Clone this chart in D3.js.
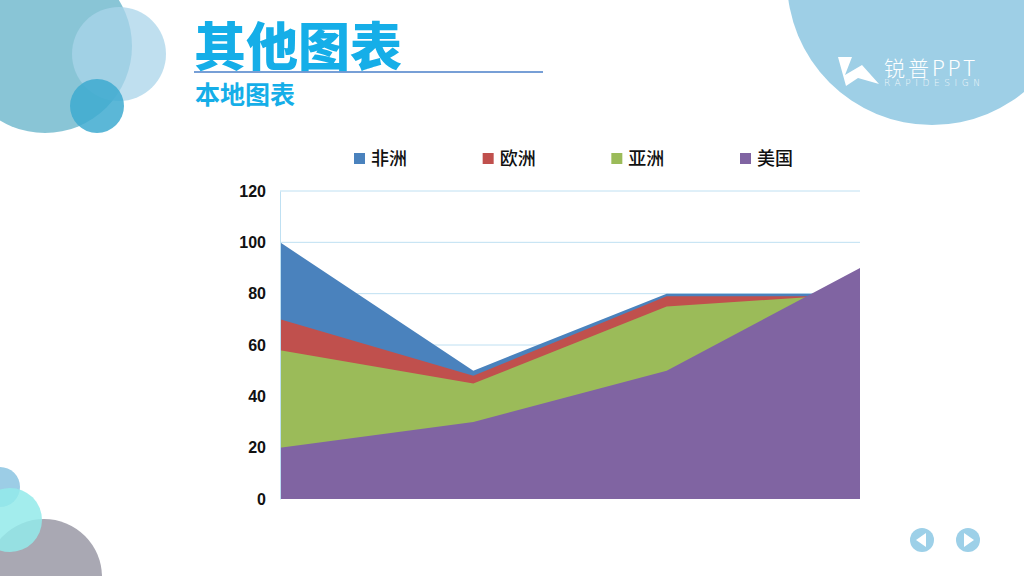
<!DOCTYPE html>
<html>
<head>
<meta charset="utf-8">
<script src="https://cdn.jsdelivr.net/npm/d3@7"></script>
<style>
  html, body { margin: 0; padding: 0; background: #fff; }
  svg { display: block; }
</style>
</head>
<body>
<svg id="slide" width="1024" height="576"></svg>
<script>
// 数据
const categories = ['类别1', '类别2', '类别3', '类别4'];
const seriesNames = ['非洲', '欧洲', '亚洲', '美国'];
const africa = [100, 50, 80, 80];
const europe = [70, 48, 79, 79];
const asia = [58, 45, 75, 80];
const usa = [20, 30, 50, 90];
const yTicks = [0, 20, 40, 60, 80, 100, 120];

const colors = ['#4a82bd', '#c0504d', '#9bbb59', '#8064a2'];
const seriesValues = [africa, europe, asia, usa];

const svg = d3.select('#slide');

// 装饰圆
const deco = svg.append('g').attr('class', 'deco');
[
  { cx: 932, cy: -20, r: 145, fill: '#9ecfe6', op: 1 },
  { cx: 45, cy: 46, r: 87, fill: '#7fc0d3', op: 0.92 },
  { cx: 119, cy: 54, r: 47, fill: '#a9d4ea', op: 0.75 },
  { cx: 97, cy: 106, r: 27, fill: '#3eaad0', op: 0.85 },
  { cx: 44, cy: 577, r: 58, fill: '#a9a8b3', op: 1 },
  { cx: 0, cy: 487, r: 20, fill: '#9ccde6', op: 1 },
  { cx: 10, cy: 520, r: 32, fill: '#93eaea', op: 0.85 }
].forEach(c => {
  deco.append('circle')
    .attr('cx', c.cx).attr('cy', c.cy).attr('r', c.r)
    .attr('fill', c.fill).attr('opacity', c.op);
});

// 标题
svg.append('text')
  .attr('x', 194).attr('y', 66)
  .attr('font-family', '"Noto Sans CJK SC", sans-serif')
  .attr('font-weight', 900)
  .attr('font-size', 52)
  .attr('fill', '#15aee8')
  .text('其他图表');

svg.append('line')
  .attr('x1', 194).attr('x2', 543)
  .attr('y1', 72).attr('y2', 72)
  .attr('stroke', '#4a7fc8').attr('stroke-width', 1.5);

svg.append('text')
  .attr('x', 195).attr('y', 104)
  .attr('font-family', '"Noto Sans CJK SC", sans-serif')
  .attr('font-weight', 700)
  .attr('font-size', 25)
  .attr('fill', '#15aee8')
  .text('本地图表');

// 右上角 logo
const logo = svg.append('g').attr('class', 'logo');
logo.append('path')
  .attr('d', 'M838,57 L852,57 L845,75 L862,65 L879,84 L858,78 L846,86 Z')
  .attr('fill', '#fff');
logo.append('text')
  .attr('x', 884).attr('y', 76)
  .attr('font-family', '"Noto Sans CJK SC", sans-serif')
  .attr('font-size', 21)
  .attr('font-weight', 300)
  .attr('letter-spacing', 3)
  .attr('fill', '#fff')
  .text('锐普PPT');
logo.append('text')
  .attr('x', 884).attr('y', 86)
  .attr('font-family', '"DejaVu Sans", sans-serif')
  .attr('font-size', 9)
  .attr('font-weight', 200)
  .attr('textLength', 96)
  .attr('lengthAdjust', 'spacing')
  .attr('fill', '#fff')
  .attr('opacity', 0.85)
  .text('RAPIDESIGN');

// 图表
const x = d3.scalePoint().domain(categories).range([280, 860]);
const y = d3.scaleLinear().domain([0, 120]).range([499, 191]);

const chart = svg.append('g').attr('class', 'chart');

chart.selectAll('.grid')
  .data(yTicks.filter(t => t > 0))
  .enter().append('line')
  .attr('class', 'grid')
  .attr('x1', x.range()[0]).attr('x2', x.range()[1])
  .attr('y1', d => y(d)).attr('y2', d => y(d))
  .attr('stroke', '#bfe0f2').attr('stroke-width', 1);

const area = d3.area()
  .x((d, i) => x(categories[i]))
  .y0(y(0))
  .y1(d => y(d));

chart.selectAll('.area')
  .data(seriesValues)
  .enter().append('path')
  .attr('class', 'area')
  .attr('d', d => area(d))
  .attr('fill', (d, i) => colors[i]);

const yAxis = d3.axisLeft(y).tickValues(yTicks).tickSize(0).tickPadding(14);
const axisG = chart.append('g')
  .attr('transform', `translate(${x.range()[0]},0)`)
  .call(yAxis);
axisG.select('.domain').attr('stroke', '#bfe0f2');
axisG.selectAll('text')
  .attr('font-family', '"Liberation Sans", Arial, sans-serif')
  .attr('font-weight', 700)
  .attr('font-size', 16)
  .attr('fill', '#111');

// 图例
const legend = svg.append('g').attr('class', 'legend');
const legendX = d3.scalePoint().domain(seriesNames).range([354, 740]);
const items = legend.selectAll('.item')
  .data(seriesNames)
  .enter().append('g')
  .attr('transform', d => `translate(${legendX(d)},153)`);
items.append('rect')
  .attr('width', 11).attr('height', 11)
  .attr('fill', (d, i) => colors[i]);
items.append('text')
  .attr('x', 17).attr('y', 12)
  .attr('font-family', '"Noto Sans CJK SC", sans-serif')
  .attr('font-size', 18)
  .attr('font-weight', 500)
  .attr('fill', '#111')
  .text(d => d);

// 翻页按钮
const nav = svg.append('g').attr('class', 'nav');
[{ cx: 922, dir: -1 }, { cx: 968, dir: 1 }].forEach(b => {
  nav.append('circle').attr('cx', b.cx).attr('cy', 540).attr('r', 12).attr('fill', '#9dd0e8');
  const tip = b.cx + b.dir * 6;
  const back = b.cx - b.dir * 4;
  nav.append('path')
    .attr('d', `M${tip},540 L${back},533 L${back},547 Z`)
    .attr('fill', '#fff');
});
</script>
</body>
</html>
